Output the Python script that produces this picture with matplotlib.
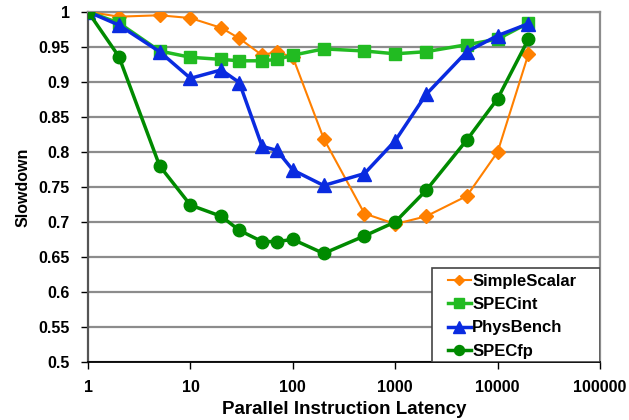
import matplotlib
matplotlib.use("Agg")
import matplotlib.pyplot as plt
from matplotlib.ticker import FixedLocator, NullLocator
from matplotlib.patches import Rectangle

plt.rcParams['font.family'] = ['Liberation Sans', 'DejaVu Sans']
plt.rcParams['font.weight'] = 'bold'

# latency values (x axis)
latency = [1, 2, 5, 10, 20, 30, 50, 70, 100, 200, 500, 1000, 2000, 5000, 10000, 20000]

simplescalar = [1.0, 0.993, 0.995, 0.991, 0.977, 0.962, 0.938, 0.943, 0.935, 0.819,
                0.712, 0.697, 0.708, 0.737, 0.800, 0.940]
specint = [1.0, 0.984, 0.944, 0.935, 0.932, 0.930, 0.930, 0.932, 0.938, 0.947,
           0.944, 0.940, 0.943, 0.953, 0.961, 0.984]
physbench = [1.0, 0.981, 0.943, 0.905, 0.917, 0.899, 0.808, 0.802, 0.774, 0.752,
             0.769, 0.816, 0.882, 0.943, 0.966, 0.983]
specfp = [1.0, 0.936, 0.780, 0.724, 0.708, 0.688, 0.672, 0.672, 0.675, 0.655,
          0.680, 0.700, 0.745, 0.817, 0.876, 0.961]

yticks = [0.5, 0.55, 0.6, 0.65, 0.7, 0.75, 0.8, 0.85, 0.9, 0.95, 1]
ytick_labels = ['0.5', '0.55', '0.6', '0.65', '0.7', '0.75', '0.8', '0.85', '0.9', '0.95', '1']
xticks = [1, 10, 100, 1000, 10000, 100000]
xtick_labels = ['1', '10', '100', '1000', '10000', '100000']

fig = plt.figure(figsize=(6.29, 4.2), dpi=100)
ax = fig.add_axes([0.140, 0.138, 0.814, 0.834])

for v in yticks:
    ax.axhline(v, color='#8c8c8c', lw=1.6, zorder=1)

ax.plot(latency, simplescalar, color='#ff8000', lw=1.5, marker='D', ms=7,
        label='SimpleScalar', zorder=3)
ax.plot(latency, specint, color='#22bb22', lw=2.5, marker='s', ms=8.5,
        label='SPECint', zorder=4)
ax.plot(latency, physbench, color='#0a2be0', lw=2.5, marker='^', ms=10,
        label='PhysBench', zorder=5)
ax.plot(latency, specfp, color='#008a00', lw=2.5, marker='o', ms=9,
        label='SPECfp', zorder=6)

ax.set_xscale('log')
ax.set_xlim(1, 100000)
ax.set_ylim(0.5, 1.0)
ax.xaxis.set_major_locator(FixedLocator(xticks))
ax.xaxis.set_minor_locator(NullLocator())
ax.set_xticklabels(xtick_labels)
ax.set_yticks(yticks)
ax.set_yticklabels(ytick_labels)
ax.tick_params(axis='both', labelsize=11.5, direction='out', length=5, width=1)
ax.tick_params(axis='y', pad=8)
ax.tick_params(axis='x', pad=8)

for sp in ['top', 'right']:
    ax.spines[sp].set_color('#8c8c8c')
    ax.spines[sp].set_linewidth(1.6)
ax.spines['left'].set_color('#555555')
ax.spines['left'].set_linewidth(1.6)
ax.spines['bottom'].set_color('black')
ax.spines['bottom'].set_linewidth(1.3)

ax.set_xlabel('Parallel Instruction Latency', fontsize=13.5, fontweight='bold', labelpad=4)
ax.set_ylabel('Slowdown', fontsize=11.5, fontweight='bold', labelpad=6)

# legend box drawn by hand (wider left margin than matplotlib's padding)
box = Rectangle((0.671, 0.0), 0.329, 0.269, transform=ax.transAxes,
                facecolor='white', edgecolor='#444444', lw=1.2, zorder=9)
ax.add_patch(box)
leg = ax.legend(loc='upper left', bbox_to_anchor=(0.703, 0.252), fontsize=12,
                frameon=False, handlelength=1.35, handletextpad=0.1,
                borderpad=0.0, labelspacing=0.5, borderaxespad=0.0, markerscale=0.8)
leg.set_zorder(10)

fig.savefig('out.png', dpi=100)
